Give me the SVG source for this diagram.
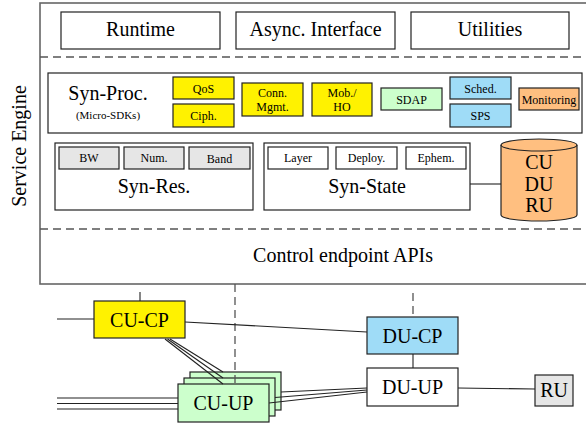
<svg xmlns="http://www.w3.org/2000/svg" width="586" height="424" viewBox="0 0 586 424">
<style>
.b{stroke:#222;stroke-width:1.2;fill:#fff}
.y{fill:#fff200}
.g{fill:#ccffcc}
.bl{fill:#9fdcf7}
.or{fill:#ffbf80}
.gr{fill:#e6e6e6}
.dash{stroke:#555;stroke-width:1.3;stroke-dasharray:8 5;fill:none}
.ln{stroke:#222;stroke-width:1.1;fill:none}
</style>
<rect width="586" height="424" fill="#fff"/>
<g id="service-engine">
<rect x="40" y="3" width="560" height="281" fill="#fff" stroke="#666" stroke-width="1.6"/>
<line class="dash" x1="40" y1="57" x2="586" y2="57"/>
<line class="dash" x1="40" y1="229" x2="586" y2="229"/>
</g>
<g id="runtime"><rect class="b" x="61" y="12" width="159" height="37"/></g>
<g id="async"><rect class="b" x="236" y="12" width="159" height="37"/></g>
<g id="utilities"><rect class="b" x="411" y="12" width="158" height="37"/></g>
<g id="syn-proc"><rect class="b" x="48" y="73" width="534" height="60"/></g>
<g id="qos"><rect class="b y" x="173" y="77" width="61" height="22"/></g>
<g id="ciph"><rect class="b y" x="173" y="104" width="61" height="23"/></g>
<g id="conn"><rect class="b y" x="242" y="83" width="61" height="33"/></g>
<g id="mob"><rect class="b y" x="312" y="83" width="60" height="33"/></g>
<g id="sdap"><rect class="b g" x="381" y="88" width="61" height="22"/></g>
<g id="sched"><rect class="b bl" x="450" y="77" width="61" height="22"/></g>
<g id="sps"><rect class="b bl" x="450" y="104" width="61" height="23"/></g>
<g id="monitoring"><rect class="b or" x="519" y="88" width="60" height="22"/></g>
<g id="syn-res"><rect class="b" x="55" y="143" width="198" height="67"/></g>
<g id="bw"><rect class="b gr" x="59" y="147" width="60" height="22"/></g>
<g id="num"><rect class="b gr" x="124" y="147" width="60" height="22"/></g>
<g id="band"><rect class="b gr" x="189" y="147" width="61" height="22"/></g>
<g id="syn-state"><rect class="b" x="264" y="143" width="206" height="67"/></g>
<g id="layer"><rect class="b" x="268" y="147" width="60" height="22"/></g>
<g id="deploy"><rect class="b" x="336" y="147" width="61" height="22"/></g>
<g id="ephem"><rect class="b" x="406" y="147" width="60" height="22"/></g>
<g id="db">
<path class="b or" d="M501,145 A38,6 0 0 1 577,145 L577,215 A38,6 0 0 1 501,215 Z"/>
<path class="ln" d="M501,145 A38,6 0 0 0 577,145"/>
</g>
<g id="cu-up">
<rect class="b g" x="190" y="372" width="91" height="38"/>
<rect class="b g" x="184" y="378" width="91" height="38"/>
<line class="dash" x1="235" y1="284" x2="235" y2="384"/>
<rect class="b g" x="178" y="384" width="91" height="38"/>
</g>
<g id="cu-cp"><rect class="b y" x="94" y="301" width="91" height="37"/></g>
<g id="du-cp"><rect class="b bl" x="367" y="317" width="91" height="37"/></g>
<g id="du-up"><rect class="b" x="367" y="368" width="91" height="38"/></g>
<g id="ru"><rect class="b gr" x="535" y="375" width="38" height="31"/></g>
<g id="connectors">
<line class="ln" x1="470" y1="184" x2="501" y2="184"/>
<line class="ln" x1="140" y1="292" x2="140" y2="301"/>
<line class="ln" x1="57" y1="319" x2="94" y2="319"/>
<line class="ln" x1="185" y1="322" x2="367" y2="332"/>
<line class="ln" x1="165" y1="339" x2="223" y2="384"/>
<line class="ln" x1="167.5" y1="339" x2="223" y2="378"/>
<line class="ln" x1="170" y1="339" x2="223" y2="372"/>
<line class="ln" x1="57" y1="398" x2="178" y2="398"/>
<line class="ln" x1="57" y1="403.5" x2="178" y2="403.5"/>
<line class="ln" x1="57" y1="409" x2="178" y2="409"/>
<line class="ln" x1="281" y1="392" x2="367" y2="388"/>
<line class="ln" x1="275" y1="397.5" x2="367" y2="390"/>
<line class="ln" x1="269" y1="403" x2="367" y2="392"/>
<line class="dash" x1="413" y1="293" x2="413" y2="317"/>
<line class="ln" x1="413" y1="354" x2="413" y2="368"/>
<line class="ln" x1="458" y1="388" x2="535" y2="389"/>
</g>
<g id="labels" text-anchor="middle" fill="#000" font-family="Liberation Serif">
<g font-size="24">
<text transform="translate(25.5,146) rotate(-90) scale(0.8333)">Service Engine</text>
<text transform="translate(343,262) scale(0.8333)">Control endpoint APIs</text>
<text transform="translate(140.5,36) scale(0.8333)">Runtime</text>
<text transform="translate(315.5,36) scale(0.8333)">Async. Interface</text>
<text transform="translate(490,36) scale(0.8333)">Utilities</text>
<text transform="translate(108,100) scale(0.8333)">Syn-Proc.</text>
<text transform="translate(154,193) scale(0.8333)">Syn-Res.</text>
<text transform="translate(367,193) scale(0.8333)">Syn-State</text>
<text transform="translate(539,169) scale(0.8333)">CU</text>
<text transform="translate(539,191) scale(0.8333)">DU</text>
<text transform="translate(539,212) scale(0.8333)">RU</text>
<text transform="translate(223.5,410) scale(0.8333)">CU-UP</text>
<text transform="translate(139.5,327) scale(0.8333)">CU-CP</text>
<text transform="translate(412.5,343) scale(0.8333)">DU-CP</text>
<text transform="translate(412.5,394) scale(0.8333)">DU-UP</text>
<text transform="translate(554,397) scale(0.8333)">RU</text>
</g>
<g font-size="12">
<text x="203.5" y="92.5">QoS</text>
<text x="203.5" y="120">Ciph.</text>
<text x="272.5" y="97">Conn.</text>
<text x="272.5" y="111">Mgmt.</text>
<text x="342" y="97">Mob./</text>
<text x="342" y="111">HO</text>
<text x="411.5" y="103.5">SDAP</text>
<text x="480.5" y="92.5">Sched.</text>
<text x="480.5" y="120">SPS</text>
<text x="549" y="103.5">Monitoring</text>
<text x="89" y="162">BW</text>
<text x="154" y="162">Num.</text>
<text x="219.5" y="162.5">Band</text>
<text x="298" y="162">Layer</text>
<text x="366.5" y="162">Deploy.</text>
<text x="436" y="162">Ephem.</text>
<text font-size="11" x="108" y="119">(Micro-SDKs)</text>
</g>
</g>
</svg>
